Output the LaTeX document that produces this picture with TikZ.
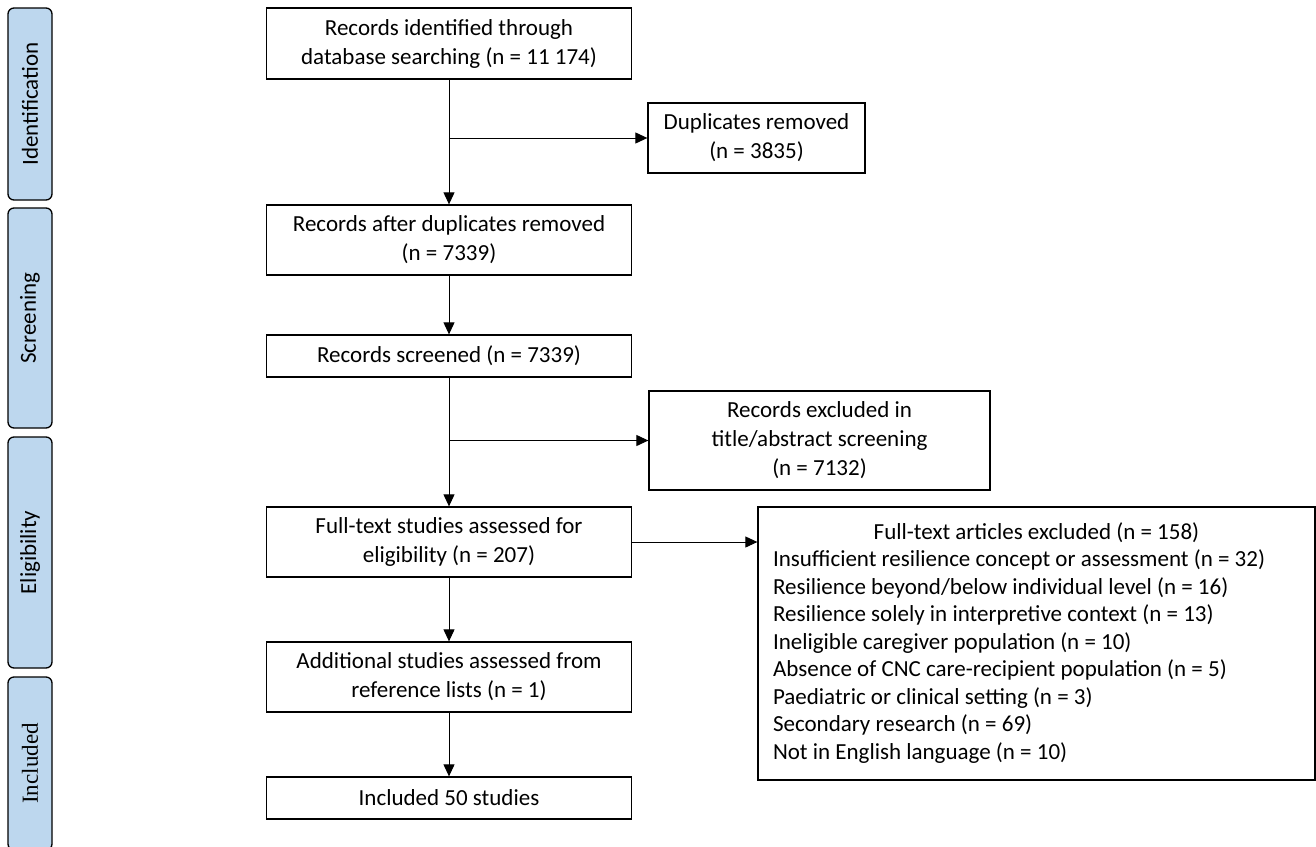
\documentclass[tikz,border=0pt]{standalone}
\usepackage{fontspec}
\setmainfont{Carlito}
\newfontfamily\incfont{Liberation Serif}
\usetikzlibrary{arrows.meta}
\definecolor{phaseblue}{HTML}{BDD7EE}
\tikzset{
  flowbox/.style={draw, line width=1.3pt, minimum width=365, align=center, font=\fontsize{23}{29}\selectfont},
  phase/.style={draw, line width=1.3pt, fill=phaseblue, rounded corners=6, rotate=90, minimum height=44, inner sep=0pt, font=\fontsize{23}{26}\selectfont},
  link/.style={line width=1pt, -{Triangle[length=12,width=11]}}
}
\begin{document}
\begin{tikzpicture}[x=1pt, y=-1pt]
  \useasboundingbox (0,0) rectangle (1316,846);
  % phase bars on the left
  \node[phase, minimum width=192] (pident) at (30,104) {Identification};
  \node[phase, minimum width=220] (pscreen) at (30,318) {Screening};
  \node[phase, minimum width=231] (pelig) at (30,552.5) {Eligibility};
  \begin{scope}
    \clip (0,0) rectangle (1316,846);
    \node[phase, minimum width=173, font=\incfont\fontsize{23}{26}\selectfont] (pincl) at (30,763.5) {Included};
  \end{scope}
  % main column
  \node[flowbox, minimum height=71] (ident) at (449,43.5) {Records identified through\\database searching (n = 11 174)};
  \node[flowbox, minimum height=70] (dedup) at (449,240) {Records after duplicates removed\\(n = 7339)};
  \node[flowbox, minimum height=42] (screen) at (449,356) {Records screened (n = 7339)};
  \node[flowbox, minimum height=70] (fulltext) at (449,542) {Full-text studies assessed for\\eligibility (n = 207)};
  \node[flowbox, minimum height=70] (addl) at (449,677) {Additional studies assessed from\\reference lists (n = 1)};
  \node[flowbox, minimum height=42] (incl) at (449,798) {Included 50 studies};
  % exclusions
  \node[flowbox, minimum width=217, minimum height=70] (dupl) at (756.5,138) {Duplicates removed\\(n = 3835)};
  \node[flowbox, minimum width=341, minimum height=99] (excl) at (819.5,440.5) {Records excluded in\\title/abstract screening\\(n = 7132)};
  \node[flowbox, minimum width=557, minimum height=273, font=\fontsize{23}{27.5}\selectfont] (ftexcl) at (1036.5,643.5) {%
    \begin{tabular}{@{}l@{}}
    \multicolumn{1}{@{}c@{}}{\makebox[527pt]{Full-text articles excluded (n = 158)}}\\
    Insufficient resilience concept or assessment (n = 32)\\
    Resilience beyond/below individual level (n = 16)\\
    Resilience solely in interpretive context (n = 13)\\
    Ineligible caregiver population (n = 10)\\
    Absence of CNC care-recipient population (n = 5)\\
    Paediatric or clinical setting (n = 3)\\
    Secondary research (n = 69)\\
    Not in English language (n = 10)
    \end{tabular}};
  % connectors
  \coordinate (split1) at (ident.south |- dupl.west);
  \coordinate (split2) at (screen.south |- excl.west);
  \draw[link] (ident) -- (dedup);
  \draw[link] (split1) -- (dupl);
  \draw[link] (dedup) -- (screen);
  \draw[link] (screen) -- (fulltext);
  \draw[link] (split2) -- (excl);
  \draw[link] (fulltext.east) -- (fulltext.east -| ftexcl.west);
  \draw[link] (fulltext) -- (addl);
  \draw[link] (addl) -- (incl);
\end{tikzpicture}
\end{document}
